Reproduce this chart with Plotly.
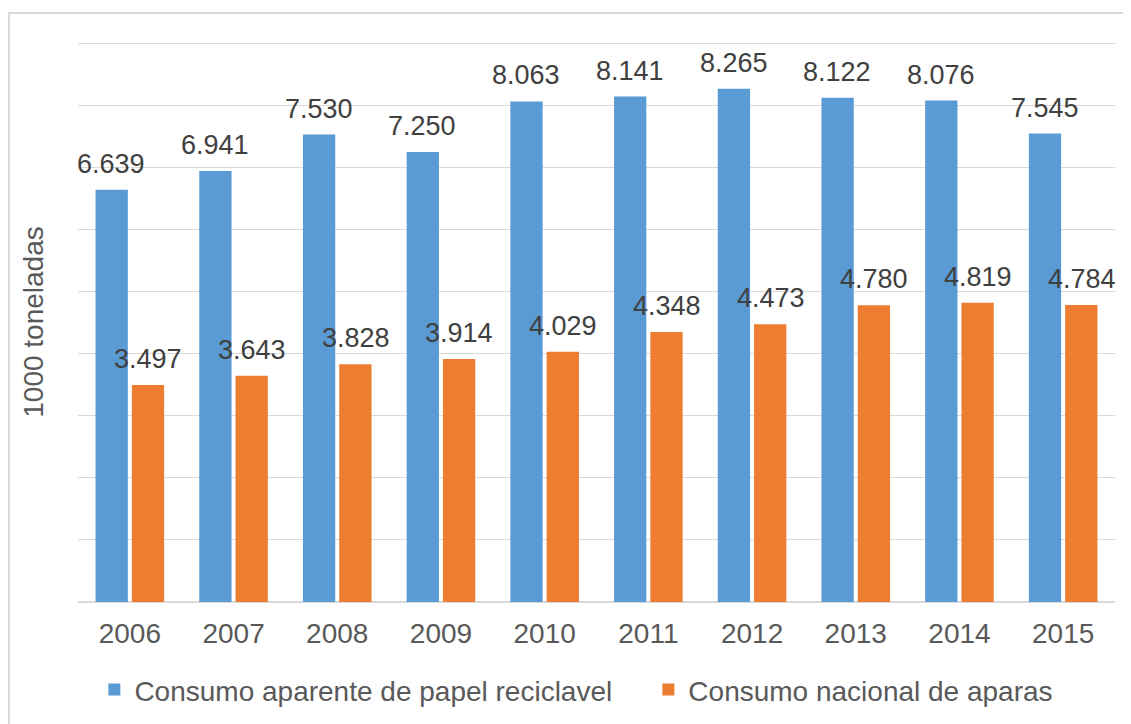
import plotly.graph_objects as go

years = ["2006", "2007", "2008", "2009", "2010", "2011", "2012", "2013", "2014", "2015"]
consumo_aparente = [6639, 6941, 7530, 7250, 8063, 8141, 8265, 8122, 8076, 7545]
consumo_nacional = [3497, 3643, 3828, 3914, 4029, 4348, 4473, 4780, 4819, 4784]
series_names = ["Consumo aparente de papel reciclavel", "Consumo nacional de aparas"]

BLUE = "#5B9BD5"
ORANGE = "#ED7D31"
FONT = "Liberation Sans, Arial, sans-serif"

def fmt(v):
    return f"{v:,}".replace(",", ".")

fig = go.Figure()
fig.add_trace(go.Bar(x=years, y=consumo_aparente, name=series_names[0] + "\u00a0" * 4,
                     marker=dict(color=BLUE, line=dict(width=0))))
fig.add_trace(go.Bar(x=years, y=consumo_nacional, name=series_names[1],
                     marker=dict(color=ORANGE, line=dict(width=0))))

# value labels; on a category axis the annotation x is the category index
annotations = []
for series, shift in ((consumo_aparente, -18.5), (consumo_nacional, 18.5)):
    for i, v in enumerate(series):
        annotations.append(dict(x=i, y=v, xref="x", yref="y", text=fmt(v),
                                showarrow=False, xshift=shift, yanchor="bottom", yshift=9,
                                font=dict(family=FONT, size=27, color="#404040")))

W, H = 1123, 716  # page body has an 8px margin
fig.update_layout(
    width=W, height=H,
    paper_bgcolor="white", plot_bgcolor="white",
    margin=dict(l=70, r=16, t=34, b=122, autoexpand=False),
    barmode="group", bargap=0.3, bargroupgap=0.11,
    font=dict(family=FONT, color="#595959"),
    annotations=annotations,
    legend=dict(orientation="h", x=0.4806, xanchor="center", y=-0.157, yanchor="middle",
                font=dict(family=FONT, size=28, color="#595959"),
                itemsizing="constant", itemwidth=30, traceorder="normal"),
    shapes=[dict(type="rect", xref="paper", yref="paper",
                 x0=-69/1037, x1=1.2, y0=-0.5, y1=1 + 29/560,
                 line=dict(color="#D9D9D9", width=2), fillcolor="rgba(0,0,0,0)", layer="below")],
)
fig.update_yaxes(range=[0, 9020], dtick=1000, showticklabels=False, showgrid=True,
                 gridcolor="#D9D9D9", gridwidth=1, zeroline=True, zerolinecolor="#D9D9D9",
                 zerolinewidth=2, ticks="",
                 title=dict(text="1000 toneladas", font=dict(family=FONT, size=28, color="#595959"),
                            standoff=25))
fig.update_xaxes(type="category", range=[-0.5, len(years) - 0.5], showgrid=False, ticks="",
                 ticklabelstandoff=12,
                 tickfont=dict(family=FONT, size=28, color="#595959"), showline=False)

fig.write_html("out.html")
